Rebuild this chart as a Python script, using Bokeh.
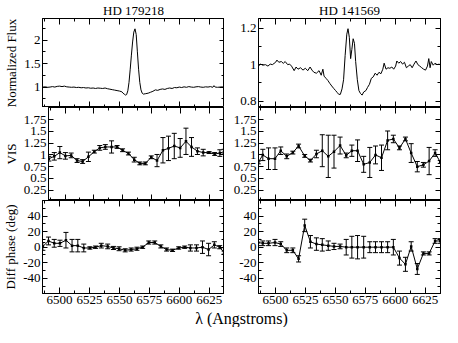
from bokeh.plotting import figure
from bokeh.models import (Range1d, LinearAxis, FixedTicker, ColumnDataSource,
                          Whisker, TeeHead, Label, CustomJSTickFormatter,
                          CustomLabelingPolicy, AllLabels)
from bokeh.layouts import column, row
from bokeh.embed import file_html
from bokeh.resources import INLINE

# ---------------- data ----------------
titles = ["HD 179218", "HD 141569"]
y_labels = ["Normalized Flux", "VIS", "Diff phase (deg)"]
x_label = "λ (Angstroms)"

x_major = [6500, 6525, 6550, 6575, 6600, 6625]
x_minor = [6487.5, 6512.5, 6537.5, 6562.5, 6587.5, 6612.5, 6637.5]

flux_a_major = [1, 1.5, 2]
flux_a_minor = [0.75, 1.25, 1.75, 2.25]
flux_b_major = [0.8, 1, 1.2]
flux_b_minor = [0.9, 1.1]
vis_major = [0.25, 0.5, 0.75, 1, 1.25, 1.5, 1.75]
phase_major = [-40, -20, 0, 20, 40]
phase_minor = [-50, -30, -10, 10, 30, 50]

# HD 179218 spectrum
spec_a_wl = [6486, 6488, 6490, 6492, 6494, 6496, 6498, 6500, 6502, 6504, 6506, 6508, 6510,
             6512, 6514, 6516, 6518, 6520, 6522, 6524, 6526, 6528, 6530, 6532, 6534, 6536,
             6538, 6540, 6542, 6544, 6546, 6548, 6550, 6552, 6553, 6554, 6555, 6556, 6557,
             6558, 6559, 6560, 6561, 6562, 6563, 6564, 6565, 6566, 6567, 6568, 6569, 6570,
             6572, 6574, 6576, 6578, 6580, 6582, 6584, 6586, 6588, 6590, 6592, 6594, 6596,
             6598, 6600, 6602, 6604, 6606, 6608, 6610, 6612, 6614, 6616, 6618, 6620, 6622,
             6624, 6626, 6628, 6629, 6630, 6632, 6634, 6636, 6638]
spec_a_flux = [1.00, 1.005, 0.995, 1.00, 1.01, 1.00, 1.015, 1.02, 1.01, 1.02, 1.005, 1.00, 0.995,
               1.00, 0.99, 0.995, 0.985, 0.99, 0.98, 0.985, 0.975, 0.98, 0.97, 0.98, 0.975, 0.97,
               0.98, 0.965, 0.955, 0.945, 0.935, 0.925, 0.915, 0.90, 0.87, 0.85, 0.83, 0.84, 0.92,
               1.10, 1.38, 1.68, 1.96, 2.17, 2.24, 2.12, 1.75, 1.38, 1.10, 0.94, 0.87, 0.85,
               0.86, 0.87, 0.89, 0.91, 0.94, 0.93, 0.95, 0.96, 0.95, 0.97, 0.98, 0.97, 0.99,
               0.985, 1.0, 0.99, 1.005, 0.995, 1.01, 1.0, 0.995, 1.005, 1.01, 1.0, 0.995, 1.005,
               1.0, 1.01, 0.995, 1.03, 1.0, 0.995, 1.0, 1.005, 1.0]

# HD 141569 spectrum
spec_b_wl = [6485.6, 6487.5, 6489.3, 6491.5, 6493.6, 6495.5, 6497.3, 6500.0, 6501.1, 6502.7,
             6504.8, 6506.4, 6508.0, 6510.1, 6511.7, 6513.3, 6515.5, 6517.1, 6518.7, 6520.8,
             6522.9, 6524.8, 6526.9, 6528.8, 6530.4, 6532.0, 6534.1, 6536.3, 6538.1, 6539.5,
             6540.5, 6542.1, 6543.7, 6545.3, 6546.9, 6548.5, 6550.1, 6551.5, 6552.8, 6554.1,
             6555.5, 6556.8, 6558.1, 6559.5, 6560.5, 6561.6, 6562.7, 6563.7, 6564.8, 6565.9,
             6566.9, 6568.3, 6569.6, 6570.9, 6572.3, 6573.6, 6575.5, 6576.8, 6578.4, 6580.0,
             6581.6, 6583.2, 6584.8, 6586.4, 6588.0, 6589.6, 6590.7, 6592.3, 6593.9, 6595.5,
             6597.1, 6598.7, 6600.3, 6601.3, 6602.9, 6604.5, 6606.1, 6607.7, 6609.3, 6610.9,
             6612.5, 6614.1, 6615.7, 6617.3, 6618.9, 6620.5, 6622.1, 6623.7, 6625.3, 6626.9,
             6628.0, 6629.1, 6630.1, 6631.7, 6633.3, 6634.9, 6636.8]
spec_b_flux = [0.992, 1.003, 0.997, 1.0, 0.992, 1.003, 1.0, 1.013, 1.025, 1.013,
               1.017, 1.007, 1.017, 1.0, 1.003, 0.992, 0.967, 0.987, 0.975, 0.983,
               0.97, 0.98, 0.967, 0.987, 0.97, 0.958, 0.953, 0.967, 0.942, 0.975,
               0.937, 0.925, 0.913, 0.897, 0.883, 0.87, 0.858, 0.847, 0.837, 0.837,
               0.867, 0.917, 1.05, 1.167, 1.197, 1.15, 1.033, 1.083, 1.142, 1.117,
               1.017, 0.917, 0.858, 0.842, 0.833, 0.85, 0.858, 0.875, 0.892, 0.925,
               0.933, 0.953, 0.942, 0.958, 0.95, 0.975, 1.008, 0.975, 0.983, 0.98,
               0.987, 0.975, 0.992, 1.02, 1.008, 1.017, 1.003, 1.013, 0.983, 0.992,
               1.0, 0.983, 1.003, 1.02, 1.0, 0.992, 0.983, 0.975, 0.97, 0.992,
               1.033, 0.983, 1.017, 0.997, 1.008, 1.0, 1.003]

# interferometric channels
wl_a = [6486, 6490.7, 6495.5, 6500.3, 6505.3, 6510.4, 6515.2, 6520.2, 6525.3, 6530,
        6534.8, 6540.2, 6545, 6549.7, 6554.8, 6559.8, 6564.6, 6569.4, 6574.5, 6579.5,
        6584.6, 6589.4, 6594.4, 6599.5, 6604.5, 6609.3, 6614.4, 6619.4, 6624.5, 6629.3,
        6633.8, 6637.5]
vis_a = [0.92, 0.97, 1.05, 0.98, 0.99, 0.88, 0.86, 0.96, 1.07, 1.15,
         1.17, 1.17, 1.17, 1.10, 1.03, 0.90, 0.82, 0.82, 0.95, 0.88,
         1.10, 1.14, 1.19, 1.15, 1.29, 1.17, 1.08, 1.05, 1.05, 1.02,
         1.04, 1.07]
vis_a_err = [0.05, 0.08, 0.13, 0.07, 0.05, 0.04, 0.04, 0.10, 0.03, 0.05,
             0.05, 0.13, 0.03, 0.03, 0.03, 0.05, 0.03, 0.03, 0.03, 0.13,
             0.27, 0.26, 0.27, 0.20, 0.28, 0.20, 0.07, 0.07, 0.02, 0.03,
             0.07, 0.05]
phase_a = [1, 8, 5, 5, 9, 2, 2, -1, -1, 0,
           2, 1, -1, -2, -4, -3, -2, 0, 6, 6,
           1, -3, -4, -1, 0, -1, -1, 0, -3, 3,
           0, -7]
phase_a_err = [5, 5, 5, 4, 10, 8, 8, 5, 1.5, 1.5,
               3, 3, 2, 2.5, 2, 2, 2, 1.5, 2, 2,
               2, 2, 1.5, 1.5, 1.5, 4, 4, 8, 8, 4,
               2, 2]

wl_b = [6485.5, 6489.3, 6494.1, 6499.5, 6504.3, 6509.3, 6514.4, 6519.2, 6524.3, 6529.1,
        6534.1, 6539, 6544, 6548.8, 6553.9, 6559, 6563.7, 6568.5, 6573.6, 6578.7,
        6583.5, 6588.5, 6593.6, 6598.4, 6603.5, 6608.5, 6613.3, 6618.4, 6623.5, 6628.3,
        6633.3, 6637.6]
vis_b = [0.84, 1.0, 0.92, 0.92, 1.09, 0.97, 1.05, 1.19, 0.98, 0.88,
         1.02, 1.09, 0.97, 1.07, 1.20, 0.99, 1.09, 1.09, 0.80, 0.84,
         1.0, 0.94, 1.31, 1.34, 1.15, 1.34, 1.04, 0.75, 0.79, 0.87,
         1.04, 0.85]
vis_b_err = [0.03, 0.12, 0.23, 0.23, 0.08, 0.05, 0.03, 0.04, 0.03, 0.03,
             0.08, 0.34, 0.45, 0.35, 0.18, 0.05, 0.12, 0.23, 0.17, 0.32,
             0.19, 0.27, 0.20, 0.08, 0.04, 0.04, 0.20, 0.11, 0.05, 0.29,
             0.07, 0.03]
phase_b = [6, 5, 5, 6, 4, -4, -4, -15, 28, 7,
           4, 3, 2, 1, 1, 0, 0, 0, 0, 0,
           0, 0, 0, 0, -14, -22, 1, -28, -8, -8,
           8, 8]
phase_b_err = [4, 3, 3, 4, 3, 3, 3, 4, 8, 8,
               8, 8, 6, 4, 3, 10, 14, 15, 14, 7,
               7, 7, 7, 10, 9, 9, 6, 7, 2, 2,
               3, 3]

# ---------------- styling / layout ----------------
FONT = "Liberation Serif"
TICK_SIZE = "13px"
X_START, X_END = 6485.7, 6637.8
FW, FH = 182, 93
LB, RB_L, RB_R, RB_EDGE = 42, 0, 34, 2
TOP_B, BOT_B = 14, 18

xr = Range1d(X_START, X_END)
fmt = CustomJSTickFormatter(code="return tick.toString();")
no_labels = CustomLabelingPolicy(code="""
    const all = Array.from(indices);
    for (const i of all) indices.unset(i);
    return indices;
""")


def mk_axis(ticks, minor, labels, major_len, minor_len, label=None):
    ax = LinearAxis(ticker=FixedTicker(ticks=ticks, minor_ticks=minor))
    ax.major_tick_in = major_len
    ax.major_tick_out = 0
    ax.minor_tick_in = minor_len
    ax.minor_tick_out = 0
    ax.axis_line_color = "black"
    ax.major_tick_line_color = "black"
    ax.minor_tick_line_color = "black"
    ax.formatter = fmt
    if labels:
        ax.major_label_policy = AllLabels()
        ax.major_label_text_font = FONT
        ax.major_label_text_font_size = TICK_SIZE
        ax.major_label_text_color = "black"
        ax.major_label_standoff = 2
    else:
        ax.major_label_policy = no_labels
        ax.major_label_text_font_size = "0px"
        ax.major_label_standoff = 0
    if label:
        ax.axis_label = label
        ax.axis_label_text_font = FONT
        ax.axis_label_text_font_size = "13px"
        ax.axis_label_text_font_style = "normal"
        ax.axis_label_text_color = "black"
        ax.axis_label_standoff = 2
    return ax


def panel(col, rowi, yr, ymaj, ymin, ylabel, title=None):
    left = col == 0
    bl = LB if left else RB_R
    br = RB_L if left else RB_EDGE
    bt = TOP_B if rowi == 0 else 0
    bb = BOT_B if rowi == 2 else 0
    p = figure(width=bl + FW + br, height=bt + FH + bb, x_range=xr, y_range=yr,
               x_axis_location=None, y_axis_location=None, toolbar_location=None,
               output_backend="svg", title=title,
               min_border_left=bl, min_border_right=br,
               min_border_top=bt, min_border_bottom=bb)
    p.outline_line_color = "black"
    p.outline_line_width = 1
    p.background_fill_color = "white"
    p.border_fill_color = "white"
    p.grid.visible = False
    if title:
        p.title.text_font = FONT
        p.title.text_font_size = "13px"
        p.title.text_font_style = "normal"
        p.title.text_color = "black"
        p.title.align = "center"
        p.title.standoff = 1
    p.add_layout(mk_axis(x_major, x_minor, rowi == 2, 6, 3), "below")
    p.add_layout(mk_axis(x_major, x_minor, False, 6, 3), "above")
    p.add_layout(mk_axis(ymaj, ymin, True, 5, 3, ylabel if left else None), "left")
    p.add_layout(mk_axis(ymaj, ymin, False, 5, 3), "right")
    return p


def err_plot(p, x, y, e):
    src = ColumnDataSource(dict(x=x, y=y,
                                upper=[v + d for v, d in zip(y, e)],
                                lower=[v - d for v, d in zip(y, e)]))
    w = Whisker(source=src, base="x", upper="upper", lower="lower",
                line_color="black", line_width=1,
                upper_head=TeeHead(size=5, line_color="black", line_width=1),
                lower_head=TeeHead(size=5, line_color="black", line_width=1))
    p.add_layout(w)
    p.line("x", "y", source=src, line_color="black", line_width=1)
    p.scatter("x", "y", source=src, marker="square", size=2.5,
              fill_color="black", line_color=None)


# top row: spectra
a1 = panel(0, 0, Range1d(0.565, 2.46), flux_a_major, flux_a_minor, y_labels[0], titles[0])
a1.line(spec_a_wl, spec_a_flux, line_color="black", line_width=1)
b1 = panel(1, 0, Range1d(0.765, 1.253), flux_b_major, flux_b_minor, y_labels[0], titles[1])
b1.line(spec_b_wl, spec_b_flux, line_color="black", line_width=1)

# middle row: visibilities
a2 = panel(0, 1, Range1d(0.03, 2.01), vis_major, [], y_labels[1])
err_plot(a2, wl_a, vis_a, vis_a_err)
b2 = panel(1, 1, Range1d(0.03, 2.01), vis_major, [], y_labels[1])
err_plot(b2, wl_b, vis_b, vis_b_err)

# bottom row: differential phases
a3 = panel(0, 2, Range1d(-59.5, 60), phase_major, phase_minor, y_labels[2])
err_plot(a3, wl_a, phase_a, phase_a_err)
b3 = panel(1, 2, Range1d(-59.5, 60), phase_major, phase_minor, y_labels[2])
err_plot(b3, wl_b, phase_b, phase_b_err)

# shared x label
TOTAL_W = LB + FW + RB_L + RB_R + FW + RB_EDGE
xl = figure(width=TOTAL_W, height=16, x_range=Range1d(0, 1), y_range=Range1d(0, 1),
            x_axis_location=None, y_axis_location=None, toolbar_location=None,
            output_backend="svg", min_border=0)
xl.outline_line_color = None
xl.grid.visible = False
frames_center = (LB + (TOTAL_W - RB_EDGE)) / 2
xl.add_layout(Label(x=frames_center, y=1, x_units="screen", y_units="screen",
                    text=x_label, text_align="center", text_baseline="bottom",
                    text_font=FONT, text_font_size="16px", text_color="black"))

layout = column(row(a1, b1), row(a2, b2), row(a3, b3), xl)

open("out.html", "w").write(file_html(layout, INLINE))
